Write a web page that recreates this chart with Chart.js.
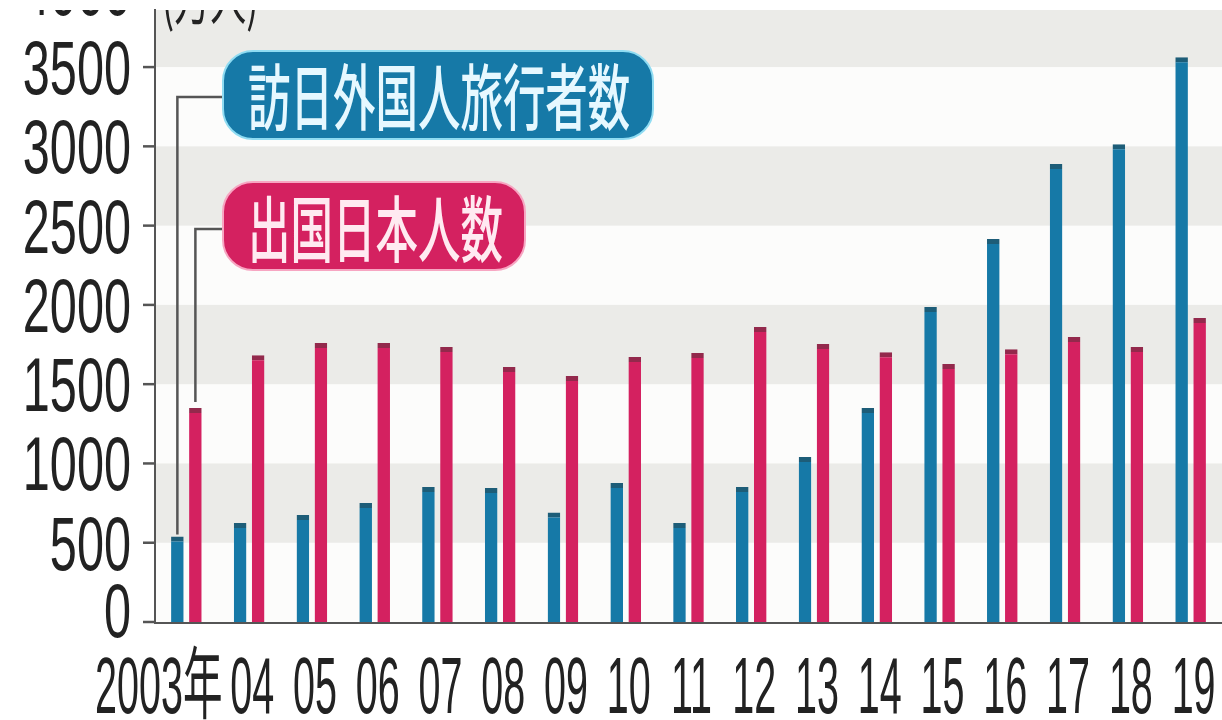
<!DOCTYPE html>
<html>
<head>
<meta charset="utf-8">
<script src="https://cdn.jsdelivr.net/npm/chart.js@4/dist/chart.umd.min.js"></script>
<style>
  html, body { margin: 0; padding: 0; background: #fff; overflow: hidden; }
  #wrap { position: relative; width: 1222px; height: 720px; }
</style>
</head>
<body>
<div id="wrap"><canvas id="chart" width="1222" height="720"></canvas></div>
<script>
// 万人
const years = ['2003年', '04', '05', '06', '07', '08', '09', '10', '11', '12', '13', '14', '15', '16', '17', '18', '19'];
const visitors = [540, 624, 675, 750, 851, 845, 690, 876, 624, 851, 1040, 1349, 1986, 2415, 2888, 3014, 3562];
const outbound = [1349, 1683, 1759, 1759, 1734, 1608, 1551, 1671, 1696, 1860, 1753, 1702, 1627, 1721, 1797, 1734, 1917];
const yTicks = [0, 500, 1000, 1500, 2000, 2500, 3000, 3500, 4000];
const seriesNames = ['訪日外国人旅行者数', '出国日本人数'];
const unitLabel = '(万人)';

const BLUE = '#1679a7';
const RED = '#d42160';
const INK = '#222';

// grey bands behind the bars
const bandsPlugin = {
    id: 'bands',
    beforeDatasetsDraw(chart) {
        const { ctx, chartArea: a, scales: { y } } = chart;
        ctx.save();
        ctx.fillStyle = '#fcfcfb';
        ctx.fillRect(a.left + 1, a.top, a.right - a.left, a.bottom - a.top);
        ctx.fillStyle = '#ebebe8';
        for (let i = 1; i < yTicks.length; i += 2) {
            const top = Math.max(y.getPixelForValue(yTicks[i + 1] ?? yTicks[i] + 500), a.top);
            const bot = y.getPixelForValue(yTicks[i]);
            ctx.fillRect(a.left + 1, top, a.right - a.left, bot - top);
        }
        ctx.restore();
    }
};

function pill(ctx, x, y, w, h, fill, glow) {
    ctx.beginPath();
    ctx.roundRect(x, y, w, h, 30);
    ctx.fillStyle = fill;
    ctx.fill();
    ctx.lineWidth = 2;
    ctx.strokeStyle = glow;
    ctx.stroke();
}

function squeezedText(ctx, text, x, y, sx, align) {
    ctx.save();
    ctx.translate(x, y);
    ctx.scale(sx, 1);
    ctx.textAlign = align;
    ctx.fillText(text, 0, 0);
    ctx.restore();
}

const decorPlugin = {
    id: 'decor',
    afterDraw(chart) {
        const { ctx, chartArea: a, scales: { x, y } } = chart;
        ctx.save();
        ctx.beginPath();
        ctx.rect(0, 10, chart.width, chart.height - 10);
        ctx.clip();

        // y tick marks + labels
        ctx.strokeStyle = '#555';
        ctx.lineWidth = 2.5;
        ctx.fillStyle = INK;
        ctx.font = '76px "Liberation Sans", Arial, sans-serif';
        ctx.textBaseline = 'alphabetic';
        yTicks.forEach(v => {
            const py = y.getPixelForValue(v);
            ctx.beginPath();
            ctx.moveTo(a.left - 12, py);
            ctx.lineTo(a.left, py);
            ctx.stroke();
            squeezedText(ctx, String(v), 131, py + 27 - (v === 0 ? 12 : 0), 0.64, 'right');
        });

        // x labels
        ctx.font = '79px "Liberation Sans", "Noto Sans CJK JP", sans-serif';
        years.forEach((lab, i) => {
            const px = x.getPixelForValue(i);
            if (i === 0) squeezedText(ctx, lab, px + 36, 713, 0.5, 'right');
            else squeezedText(ctx, lab, px + 3, 713, 0.5, 'center');
        });

        // unit
        ctx.font = '60px "Noto Sans CJK JP", sans-serif';
        squeezedText(ctx, unitLabel, 162, 20, 0.6, 'left');

        // legend pills with leader lines to the first bars
        const b0 = chart.getDatasetMeta(0).data[0];
        const r0 = chart.getDatasetMeta(1).data[0];
        ctx.strokeStyle = '#555';
        ctx.lineWidth = 2.5;
        ctx.beginPath();
        ctx.moveTo(224, 97); ctx.lineTo(b0.x, 97); ctx.lineTo(b0.x, b0.y - 2);
        ctx.moveTo(224, 229); ctx.lineTo(r0.x, 229); ctx.lineTo(r0.x, r0.y - 6);
        ctx.stroke();

        pill(ctx, 223, 51, 430, 88, BLUE, '#8fdcf2');
        pill(ctx, 223, 182, 302, 88, RED, '#f7a6c2');

        ctx.font = '500 72px "Noto Sans CJK JP", sans-serif';
        ctx.textBaseline = 'middle';
        ctx.fillStyle = '#e6f8ff';
        squeezedText(ctx, seriesNames[0], 248, 97, 0.59, 'left');
        ctx.fillStyle = '#ffeaf1';
        squeezedText(ctx, seriesNames[1], 248, 229, 0.59, 'left');
        ctx.restore();
    }
};

new Chart(document.getElementById('chart'), {
    type: 'bar',
    data: {
        labels: years,
        datasets: [{
            label: seriesNames[0],
            data: visitors,
            backgroundColor: BLUE,
            borderColor: '#1d5d78',
            borderWidth: { top: 5, left: 0, right: 0, bottom: 0 },
            borderSkipped: 'bottom',
            categoryPercentage: 0.574,
            barPercentage: 0.7
        }, {
            label: seriesNames[1],
            data: outbound,
            backgroundColor: RED,
            borderColor: '#93294c',
            borderWidth: { top: 5, left: 0, right: 0, bottom: 0 },
            borderSkipped: 'bottom',
            categoryPercentage: 0.574,
            barPercentage: 0.7
        }]
    },
    options: {
        responsive: false,
        animation: false,
        layout: { padding: { left: 155, right: 0, top: 10, bottom: 98 } },
        plugins: { legend: { display: false }, tooltip: { enabled: false } },
        scales: {
            x: {
                grid: { display: false },
                ticks: { display: false },
                border: { display: true, color: '#555', width: 3 },
                afterFit(s) { s.height = 0; }
            },
            y: {
                min: 0,
                max: 3860,
                grid: { display: false },
                ticks: { display: false },
                border: { display: true, color: '#555', width: 2 },
                afterFit(s) { s.width = 0; }
            }
        }
    },
    plugins: [bandsPlugin, decorPlugin]
});
</script>
</body>
</html>
